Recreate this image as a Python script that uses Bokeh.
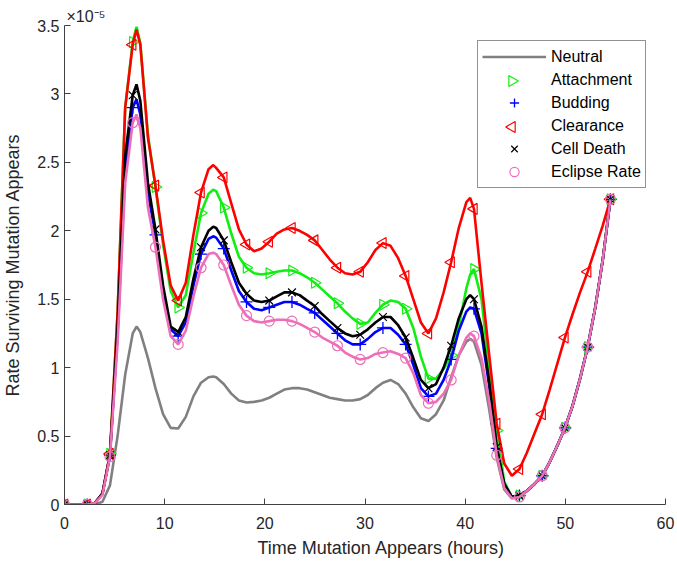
import numpy as np
from bokeh.plotting import figure
from bokeh.models import Range1d, FixedTicker, Legend, LegendItem, Title
from bokeh.embed import file_html
from bokeh.resources import INLINE

# time grid (hours)
t = [0.00, 0.76, 1.51, 2.27, 3.03, 3.79, 4.54, 5.30, 6.06, 6.81,
     7.19, 7.57, 8.33, 9.08, 9.84, 10.60, 11.35, 12.11, 12.87, 13.63,
     14.38, 14.85, 15.14, 15.90, 16.65, 17.41, 18.17, 18.92, 19.68, 20.44,
     21.19, 21.95, 22.71, 23.47, 24.22, 24.98, 25.74, 26.49, 27.25, 28.01,
     28.76, 29.52, 30.28, 31.04, 31.79, 32.55, 33.31, 34.06, 34.82, 35.58,
     36.33, 37.09, 37.85, 38.60, 39.36, 40.12, 40.50, 40.88, 41.63, 42.39,
     43.15, 43.90, 44.66, 45.42, 46.17, 46.93, 47.69, 48.44, 49.20, 49.96,
     50.72, 51.47, 52.23, 52.99, 53.74, 54.50]

# times at which markers are shown
t_mark = [0.00, 2.27, 4.54, 6.81, 9.08, 11.35, 13.63, 15.90, 18.17, 20.44,
          22.71, 24.98, 27.25, 29.52, 31.79, 34.06, 36.33, 38.60, 40.88, 43.15,
          45.42, 47.69, 49.96, 52.23, 54.50]

# values (x 1e-5)
neutral = [0, 0, 0, 0, 0.00, 0.02, 0.14, 0.50, 0.95, 1.25,
           1.30, 1.26, 1.07, 0.85, 0.66, 0.56, 0.555, 0.64, 0.79, 0.89,
           0.93, 0.935, 0.93, 0.88, 0.81, 0.76, 0.745, 0.75, 0.76, 0.78,
           0.81, 0.84, 0.85, 0.85, 0.84, 0.82, 0.80, 0.78, 0.77, 0.76,
           0.76, 0.77, 0.80, 0.85, 0.89, 0.91, 0.88, 0.81, 0.71, 0.63,
           0.61, 0.66, 0.76, 0.93, 1.09, 1.19, 1.21, 1.19, 1.02, 0.70,
           0.34, 0.11, 0.045, 0.055, 0.10, 0.15, 0.21, 0.31, 0.43, 0.56,
           0.72, 0.92, 1.15, 1.44, 1.79, 2.23]

attachment = [0, 0, 0, 0, 0.01, 0.08, 0.37, 1.40, 2.90, 3.38,
              3.49, 3.37, 2.70, 2.32, 1.90, 1.56, 1.44, 1.53, 1.84, 2.13,
              2.27, 2.30, 2.29, 2.17, 1.98, 1.81, 1.73, 1.69, 1.68, 1.69,
              1.70, 1.71, 1.71, 1.69, 1.66, 1.62, 1.57, 1.52, 1.47, 1.41,
              1.36, 1.32, 1.33, 1.40, 1.46, 1.49, 1.48, 1.43, 1.29, 1.08,
              0.92, 0.92, 0.99, 1.09, 1.30, 1.58, 1.68, 1.72, 1.50, 1.00,
              0.54, 0.17, 0.055, 0.065, 0.10, 0.15, 0.21, 0.31, 0.43, 0.56,
              0.72, 0.92, 1.15, 1.44, 1.79, 2.23]

budding = [0, 0, 0, 0, 0.01, 0.08, 0.36, 1.25, 2.45, 2.90,
           2.96, 2.85, 2.28, 1.97, 1.56, 1.28, 1.23, 1.33, 1.60, 1.83,
           1.94, 1.96, 1.95, 1.87, 1.71, 1.56, 1.48, 1.43, 1.42, 1.44,
           1.46, 1.48, 1.48, 1.46, 1.43, 1.40, 1.35, 1.30, 1.25, 1.20,
           1.17, 1.17, 1.21, 1.26, 1.29, 1.29, 1.24, 1.17, 1.02, 0.85,
           0.79, 0.81, 0.91, 1.06, 1.27, 1.41, 1.44, 1.43, 1.25, 0.87,
           0.41, 0.15, 0.055, 0.065, 0.10, 0.15, 0.21, 0.31, 0.43, 0.56,
           0.72, 0.92, 1.15, 1.44, 1.79, 2.23]

clearance = [0, 0, 0, 0, 0.01, 0.08, 0.37, 1.40, 2.90, 3.36,
             3.47, 3.36, 2.68, 2.33, 1.93, 1.60, 1.49, 1.62, 1.97, 2.28,
             2.45, 2.48, 2.46, 2.39, 2.20, 2.01, 1.90, 1.85, 1.87, 1.92,
             1.98, 2.01, 2.02, 2.00, 1.97, 1.93, 1.86, 1.79, 1.73, 1.69,
             1.68, 1.70, 1.77, 1.86, 1.91, 1.89, 1.80, 1.67, 1.50, 1.33,
             1.25, 1.36, 1.55, 1.77, 2.02, 2.21, 2.24, 2.16, 1.62, 1.10,
             0.59, 0.30, 0.21, 0.26, 0.38, 0.52, 0.66, 0.84, 1.03, 1.22,
             1.39, 1.55, 1.70, 1.87, 2.04, 2.23]

cell_death = [0, 0, 0, 0, 0.01, 0.08, 0.36, 1.30, 2.55, 2.99,
              3.07, 2.95, 2.35, 2.01, 1.60, 1.30, 1.26, 1.37, 1.65, 1.88,
              2.00, 2.03, 2.02, 1.93, 1.77, 1.62, 1.54, 1.49, 1.48, 1.49,
              1.52, 1.55, 1.55, 1.53, 1.49, 1.45, 1.39, 1.34, 1.29, 1.25,
              1.23, 1.24, 1.28, 1.33, 1.37, 1.37, 1.31, 1.22, 1.07, 0.91,
              0.85, 0.88, 1.00, 1.16, 1.36, 1.50, 1.53, 1.50, 1.30, 0.90,
              0.42, 0.15, 0.055, 0.065, 0.10, 0.15, 0.21, 0.31, 0.43, 0.56,
              0.72, 0.92, 1.15, 1.44, 1.79, 2.23]

eclipse = [0, 0, 0, 0, 0.01, 0.07, 0.35, 1.18, 2.35, 2.79,
           2.85, 2.75, 2.17, 1.88, 1.50, 1.23, 1.17, 1.27, 1.52, 1.73,
           1.83, 1.84, 1.83, 1.75, 1.60, 1.46, 1.38, 1.34, 1.33, 1.34,
           1.35, 1.35, 1.34, 1.32, 1.29, 1.26, 1.22, 1.19, 1.16, 1.11,
           1.08, 1.06, 1.07, 1.10, 1.11, 1.12, 1.10, 1.07, 0.96, 0.80,
           0.74, 0.75, 0.81, 0.91, 1.09, 1.22, 1.25, 1.23, 1.07, 0.76,
           0.36, 0.12, 0.045, 0.055, 0.10, 0.15, 0.21, 0.31, 0.43, 0.56,
           0.72, 0.92, 1.15, 1.44, 1.79, 2.23]

x_ticks = [0, 10, 20, 30, 40, 50, 60]
y_ticks = [0, 0.5, 1, 1.5, 2, 2.5, 3, 3.5]
y_tick_labels = ["0", "0.5", "1", "1.5", "2", "2.5", "3", "3.5"]

FONT = "Liberation Sans"
TXT = "#262626"

W, H = 677, 564
BL, BR, BT, BB = 62, 12, 25, 60
p = figure(width=W, height=H, output_backend="svg", toolbar_location=None,
           x_range=Range1d(0, 60), y_range=Range1d(0, 3.5),
           min_border_left=BL, min_border_right=BR, min_border_top=BT, min_border_bottom=BB)
p.xgrid.visible = False
p.ygrid.visible = False
p.outline_line_color = None
p.background_fill_color = "white"
p.border_fill_color = "white"

p.xaxis.ticker = FixedTicker(ticks=x_ticks)
p.yaxis.ticker = FixedTicker(ticks=y_ticks)
p.yaxis.major_label_overrides = {v: s for v, s in zip(y_ticks, y_tick_labels)}
for ax in (p.xaxis[0], p.yaxis[0]):
    ax.major_tick_in = 6
    ax.major_tick_out = 0
    ax.minor_tick_line_color = None
    ax.axis_line_color = "#404040"
    ax.major_tick_line_color = "#404040"
    ax.major_label_text_font = FONT
    ax.major_label_text_font_size = "16px"
    ax.major_label_text_color = TXT
    ax.axis_label_text_font = FONT
    ax.axis_label_text_font_size = "18px"
    ax.axis_label_text_font_style = "normal"
    ax.axis_label_text_color = TXT
p.yaxis.axis_label = "Rate Surviving Mutation Appears"
p.xaxis.major_label_standoff = 12
p.yaxis.major_label_standoff = 5
p.yaxis.axis_label_standoff = 11

# exponent note above the y axis
p.title.text = "\u00d710\u207b\u2075"
p.title.align = "left"
p.title.offset = 2
p.title.standoff = 2
p.title.text_font = FONT
p.title.text_font_size = "16px"
p.title.text_font_style = "normal"
p.title.text_color = TXT

# x-axis title (sits slightly right of centre in the reference)
p.add_layout(Title(text="Time Mutation Appears (hours)", align="left", offset=193,
                   standoff=8, text_font=FONT, text_font_size="18px",
                   text_font_style="normal", text_color=TXT), "below")

mi = [t.index(v) for v in t_mark]
tm = [t[i] for i in mi]

GRAY = "#808080"
GREEN = "#11ee11"
BLUE = "#0000ff"
RED = "#ff0000"
BLACK = "#000000"
PINK = "#ee6eb8"
LW = 2.6

r_neu = p.line(t, neutral, line_width=LW, color=GRAY)

p.line(t, attachment, line_width=LW, color=GREEN)
p.scatter(tm, [attachment[i] for i in mi], marker="triangle", angle=-np.pi / 2,
          size=11, fill_color=None, line_color=GREEN, line_width=1.2)
r_att = p.scatter(tm[:1], attachment[:1], marker="triangle", size=1, alpha=0)

p.line(t, budding, line_width=LW, color=BLUE)
r_bud = p.scatter(tm, [budding[i] for i in mi], marker="cross", size=12,
                  line_color=BLUE, line_width=1.3)

p.line(t, clearance, line_width=LW, color=RED)
p.scatter(tm, [clearance[i] for i in mi], marker="triangle", angle=np.pi / 2,
          size=11, fill_color=None, line_color=RED, line_width=1.2)
r_cle = p.scatter(tm[:1], clearance[:1], marker="triangle", size=1, alpha=0)

p.line(t, cell_death, line_width=LW, color=BLACK)
r_cd = p.scatter(tm, [cell_death[i] for i in mi], marker="x", size=11,
                 line_color=BLACK, line_width=1.2)

p.line(t, eclipse, line_width=LW, color=PINK)
r_ecl = p.scatter(tm, [eclipse[i] for i in mi], marker="circle", size=10,
                  fill_color=None, line_color=PINK, line_width=1.2)

LEG_X, LEG_Y = 413, 316
PAD, ROW, GW = 4, 23, 64
legend = Legend(items=[
    LegendItem(label="Neutral", renderers=[r_neu]),
    LegendItem(label="Attachment", renderers=[r_att]),
    LegendItem(label="Budding", renderers=[r_bud]),
    LegendItem(label="Clearance", renderers=[r_cle]),
    LegendItem(label="Cell Death", renderers=[r_cd]),
    LegendItem(label="Eclipse Rate", renderers=[r_ecl]),
], location=(LEG_X, LEG_Y))
legend.padding = PAD
legend.spacing = 0
legend.margin = 0
legend.label_height = ROW
legend.glyph_height = ROW
legend.glyph_width = GW
legend.label_standoff = 5
legend.label_text_font = FONT
legend.label_text_font_size = "16px"
legend.label_text_color = "#000000"
legend.border_line_color = "#262626"
legend.border_line_width = 1
# transparent box (no data lies under it) so the sideways triangles show through
legend.background_fill_alpha = 0
p.add_layout(legend)

# sideways triangles for the legend (Bokeh's legend ignores marker angle),
# drawn in a pixel-based extra range laid over the frame
FW, FH = W - BL - BR, H - BT - BB
p.extra_x_ranges["px"] = Range1d(0, FW)
p.extra_y_ranges["px"] = Range1d(0, FH)
leg_top = LEG_Y + 2 * PAD + 6 * ROW
gx = LEG_X + PAD + GW / 2
for row, ang, col in ((1, -np.pi / 2, GREEN), (3, np.pi / 2, RED)):
    p.scatter([gx], [leg_top - PAD - ROW * row - ROW / 2], marker="triangle",
              angle=ang, size=11, fill_color=None, line_color=col, line_width=1.2,
              x_range_name="px", y_range_name="px")

open("out.html", "w").write(file_html(p, INLINE))
